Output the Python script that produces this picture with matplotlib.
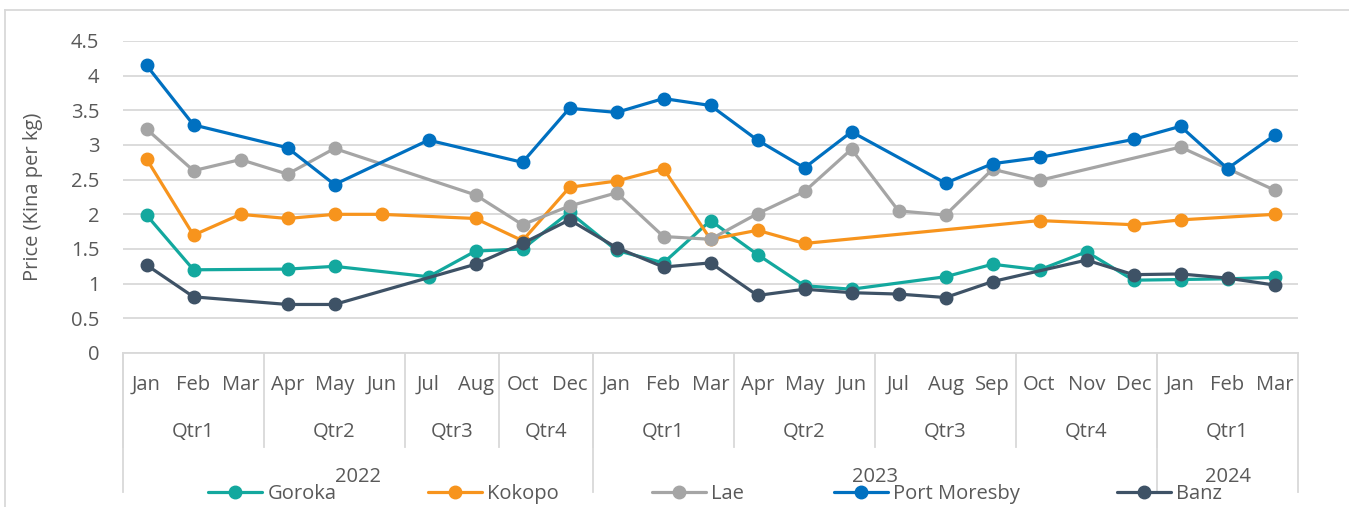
import numpy as np
import matplotlib
matplotlib.use("Agg")
import matplotlib.pyplot as plt
import matplotlib.transforms as mtransforms
from matplotlib.lines import Line2D

nan = np.nan

# categories (multi-level axis)
months = ["Jan", "Feb", "Mar", "Apr", "May", "Jun", "Jul", "Aug", "Oct", "Dec",
          "Jan", "Feb", "Mar", "Apr", "May", "Jun", "Jul", "Aug", "Sep", "Oct", "Nov", "Dec",
          "Jan", "Feb", "Mar"]
quarters = ["Qtr1", "Qtr2", "Qtr3", "Qtr4", "Qtr1", "Qtr2", "Qtr3", "Qtr4", "Qtr1"]
quarter_sizes = [3, 3, 2, 2, 3, 3, 3, 3, 3]
years = ["2022", "2023", "2024"]
year_sizes = [10, 12, 3]

# prices (Kina per kg), nan = no observation
goroka = [1.99, 1.20, nan, 1.21, 1.25, nan, 1.10, 1.47, 1.50, 2.03,
          1.48, 1.30, 1.91, 1.42, 0.97, 0.92, nan, 1.10, 1.28, 1.20, 1.46, 1.05,
          1.06, 1.07, 1.09]
kokopo = [2.80, 1.70, 2.00, 1.94, 2.00, 2.00, nan, 1.94, 1.62, 2.39,
          2.48, 2.66, 1.64, 1.77, 1.58, nan, nan, nan, nan, 1.91, nan, 1.85,
          1.92, nan, 2.00]
lae = [3.23, 2.63, 2.79, 2.58, 2.95, nan, nan, 2.28, 1.85, 2.12,
       2.31, 1.68, 1.64, 2.01, 2.33, 2.94, 2.05, 1.99, 2.65, 2.49, nan, nan,
       2.97, 2.66, 2.35]
port_moresby = [4.15, 3.29, nan, 2.96, 2.43, nan, 3.07, nan, 2.75, 3.53,
                3.47, 3.67, 3.57, 3.07, 2.67, 3.19, nan, 2.45, 2.73, 2.82, nan, 3.08,
                3.27, 2.66, 3.14]
banz = [1.27, 0.81, nan, 0.70, 0.70, nan, nan, 1.28, 1.58, 1.92,
        1.52, 1.24, 1.30, 0.83, 0.92, 0.87, 0.85, 0.80, 1.03, nan, 1.34, 1.13,
        1.14, 1.08, 0.98]

series_names = ["Goroka", "Kokopo", "Lae", "Port Moresby", "Banz"]
series_data = [goroka, kokopo, lae, port_moresby, banz]
colors = ["#13A89E", "#F7941D", "#A5A5A5", "#0070C0", "#3E5266"]

plt.rcParams["font.family"] = ["Open Sans", "DejaVu Sans"]
txt = "#595959"
grid_c = "#D9D9D9"
fs = 14.5

W, H = 1349, 507
fig = plt.figure(figsize=(W / 100, H / 100), dpi=100)
x0, x1, y0, y1 = 123, 1298, 41, 353
ax = fig.add_axes([x0 / W, 1 - y1 / H, (x1 - x0) / W, (y1 - y0) / H])

x = np.arange(len(months))
for name, vals, c in zip(series_names, series_data, colors):
    v = np.array(vals, dtype=float)
    m = ~np.isnan(v)
    ax.plot(x[m], v[m], color=c, lw=2.3, marker="o", ms=9, label=name,
            solid_capstyle="round")

ax.set_xlim(-0.5, len(months) - 0.5)
ax.set_ylim(0, 4.5)
ax.set_yticks(np.arange(0, 4.51, 0.5))
ax.set_yticklabels([f"{t:g}" for t in np.arange(0, 4.51, 0.5)])
ax.tick_params(axis="y", length=0, pad=17, labelsize=fs, labelcolor=txt)
ax.set_xticks([])
ax.grid(axis="y", color=grid_c, lw=1.3)
ax.set_axisbelow(True)
for s in ["top", "right", "left"]:
    ax.spines[s].set_visible(False)
ax.spines["bottom"].set_color(grid_c)
ax.spines["bottom"].set_linewidth(1.3)
ax.set_ylabel("Price (Kina per kg)", fontsize=fs, color=txt)
ax.yaxis.set_label_coords((43 - x0) / (x1 - x0), 0.5)

# multi-level category axis
tr = mtransforms.blended_transform_factory(ax.transData, ax.transAxes)
ph = y1 - y0
def ay(py):
    return (y1 - py) / ph

for i, mo in enumerate(months):
    ax.text(i, ay(385), mo, transform=tr, ha="center", va="center",
            fontsize=fs, color=txt)

pos = -0.5
for q, n in zip(quarters, quarter_sizes):
    ax.text(pos + n / 2, ay(432), q, transform=tr, ha="center", va="center",
            fontsize=fs, color=txt)
    ax.plot([pos, pos], [0, ay(447)], transform=tr, color=grid_c, lw=1.3,
            clip_on=False)
    pos += n

pos = -0.5
for yr, n in zip(years, year_sizes):
    ax.text(pos + n / 2, ay(477), yr, transform=tr, ha="center", va="center",
            fontsize=fs, color=txt)
    ax.plot([pos, pos], [0, ay(492)], transform=tr, color=grid_c, lw=1.3,
            clip_on=False)
    pos += n
ax.plot([pos, pos], [0, ay(492)], transform=tr, color=grid_c, lw=1.3,
        clip_on=False)

# outer chart frame
fig.add_artist(Line2D([5 / W, 1], [1 - 10 / H, 1 - 10 / H], color=grid_c, lw=1.3))
fig.add_artist(Line2D([5 / W, 5 / W], [0, 1 - 10 / H], color=grid_c, lw=1.3))

# legend entries spaced like the original
handles, labels = ax.get_legend_handles_labels()
leg_x = [208, 428, 652, 834, 1117]
for h, l, lx in zip(handles, labels, leg_x):
    fig.legend([h], [l], loc="center left",
               bbox_to_anchor=(lx / W, 1 - 494 / H), frameon=False,
               fontsize=fs, labelcolor=txt, handlelength=2.7,
               handletextpad=0.25, borderpad=0, borderaxespad=0)

fig.savefig("out.png", dpi=100)
